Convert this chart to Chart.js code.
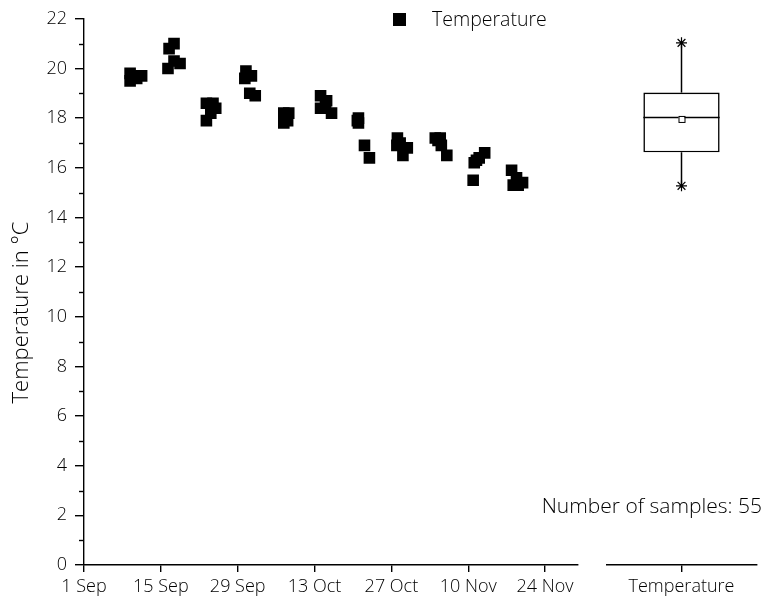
<!DOCTYPE html>
<html>
<head>
<meta charset="utf-8">
<script src="https://cdn.jsdelivr.net/npm/chart.js@4"></script>
<style>
  html, body { margin: 0; padding: 0; background: #fff; }
  body { width: 763px; height: 605px; position: relative; overflow: hidden; font-family: 'Open Sans', sans-serif; font-weight: 300; color: #000; }
  canvas { position: absolute; top: 0; }
  #legend { position: absolute; left: 393px; top: 6px; height: 26px; font-size: 19.5px; line-height: 26px; white-space: nowrap; }
  #legend .sw { position: absolute; left: 0; top: 7px; width: 13px; height: 13px; background: #000; }
  #legend .tx { position: absolute; left: 39px; top: 0; }
  #count { position: absolute; right: 1px; top: 492px; font-size: 21px; line-height: 26px; white-space: nowrap; }
</style>
</head>
<body>
<canvas id="main" width="600" height="605" style="left:0"></canvas>
<canvas id="box" width="163" height="605" style="left:600px"></canvas>
<div id="legend"><span class="sw"></span><span class="tx" id="legendText"></span></div>
<div id="count"></div>
<script>
// ---- data ----
const seriesName = 'Temperature';
const yAxisTitle = 'Temperature in °C';
const tickDays = [0, 14, 28, 42, 56, 70, 84];           // days after 1 Sep
const tickLabels = ['1 Sep', '15 Sep', '29 Sep', '13 Oct', '27 Oct', '10 Nov', '24 Nov'];
const sampleDays = [
  8.4, 8.4, 8.9, 9.6, 10.5,
  15.5, 16.4, 15.3, 16.4, 17.5,
  22.3, 23.5, 22.3, 23.1, 24.0,
  29.5, 30.5, 29.3, 30.2, 31.2,
  36.4, 37.3, 36.4, 37.1, 36.5,
  43.1, 44.2, 43.1, 44.0, 45.1,
  50.0, 50.0, 49.8, 51.1, 52.0,
  57.1, 57.0, 58.9, 58.1, 57.6,
  64.0, 64.9, 65.1, 66.1, 64.5,
  70.9, 71.1, 72.0, 73.0, 71.5,
  77.9, 78.8, 78.2, 79.9, 79.1
];
const sampleTemps = [
  19.8, 19.5, 19.7, 19.6, 19.7,
  20.8, 21.0, 20.0, 20.3, 20.2,
  18.6, 18.6, 17.9, 18.2, 18.4,
  19.9, 19.7, 19.6, 19.0, 18.9,
  18.2, 18.2, 17.8, 17.9, 18.0,
  18.9, 18.7, 18.4, 18.5, 18.2,
  18.0, 17.8, 17.9, 16.9, 16.4,
  17.2, 16.9, 16.8, 16.5, 17.0,
  17.2, 17.2, 16.9, 16.5, 17.1,
  15.5, 16.2, 16.4, 16.6, 16.3,
  15.9, 15.6, 15.3, 15.4, 15.3
];
const boxCategory = ['Temperature'];
const boxStats = [15.25, 16.6, 18.0, 19.0, 21.0];   // min, q1, median, q3, max
const boxMean = 17.94;
const sampleCount = 55;
const yMin = 0, yMax = 22;
const xMin = 0, xMax = 90;

// ---- text ----
document.getElementById('legendText').textContent = seriesName;
document.getElementById('count').textContent = 'Number of samples: ' + sampleCount;

const FONT = { family: "'Open Sans', sans-serif", size: 18, weight: 300 };
Chart.defaults.font.family = FONT.family;
Chart.defaults.font.size = FONT.size;
Chart.defaults.font.weight = FONT.weight;
Chart.defaults.color = '#000';

const AXIS_W = 1.4;

const axisDecor = {
  id: 'axisDecor',
  afterDraw(chart) {
    const y = chart.scales.y;
    const ctx = chart.ctx;
    ctx.save();
    ctx.strokeStyle = '#000';
    ctx.lineWidth = AXIS_W;
    for (let v = yMin + 1; v < yMax; v += 2) {
      const py = Math.round(y.getPixelForValue(v)) + 0.5;
      ctx.beginPath();
      ctx.moveTo(chart.chartArea.left - 5, py);
      ctx.lineTo(chart.chartArea.left, py);
      ctx.stroke();
    }
    // y axis title
    ctx.translate(28, 312.5);
    ctx.rotate(-Math.PI / 2);
    ctx.fillStyle = '#000';
    ctx.font = '300 22px ' + FONT.family;
    ctx.textAlign = 'center';
    ctx.textBaseline = 'alphabetic';
    ctx.fillText(yAxisTitle, 0, 0);
    ctx.restore();
  }
};

new Chart(document.getElementById('main'), {
  type: 'scatter',
  data: {
    datasets: [{
      label: seriesName,
      data: sampleDays.map((d, i) => ({ x: d, y: sampleTemps[i] })),
      pointStyle: 'rect',
      pointRadius: 8.2,
      pointHoverRadius: 8.2,
      backgroundColor: '#000',
      borderColor: '#000',
      borderWidth: 0
    }]
  },
  options: {
    responsive: false,
    animation: false,
    devicePixelRatio: 1,
    layout: { padding: { top: 18, right: 22, bottom: 0, left: 0 } },
    plugins: { legend: { display: false }, tooltip: { enabled: false } },
    scales: {
      x: {
        type: 'linear',
        min: xMin, max: xMax,
        afterBuildTicks: (s) => { s.ticks = tickDays.map(v => ({ value: v })); },
        afterFit: (s) => { s.height = 40; },
        ticks: {
          padding: 4,
          maxRotation: 0,
          autoSkip: false,
          callback: (v) => { const i = tickDays.indexOf(v); return i >= 0 ? tickLabels[i] : ''; }
        },
        grid: { drawOnChartArea: false, tickLength: 7, color: '#000', lineWidth: AXIS_W },
        border: { color: '#000', width: AXIS_W }
      },
      y: {
        min: yMin, max: yMax,
        afterFit: (s) => { s.width = 84; },
        ticks: { stepSize: 2, padding: 8 },
        grid: { drawOnChartArea: false, tickLength: 9, color: '#000', lineWidth: AXIS_W },
        border: { color: '#000', width: AXIS_W },
        title: { display: false, text: yAxisTitle }
      }
    }
  },
  plugins: [axisDecor]
});

const boxExtras = {
  id: 'boxExtras',
  afterDatasetsDraw(chart) {
    const y = chart.scales.y;
    const bar = chart.getDatasetMeta(0).data[0];
    const ctx = chart.ctx;
    ctx.save();
    ctx.strokeStyle = '#000';
    ctx.lineWidth = 1.5;
    const py = y.getPixelForValue(boxStats[2]);
    ctx.beginPath();
    ctx.moveTo(bar.x - bar.width / 2, py);
    ctx.lineTo(bar.x + bar.width / 2, py);
    ctx.stroke();
    // mean marker on top
    const mx = bar.x, my = y.getPixelForValue(boxMean);
    ctx.fillStyle = '#fff';
    ctx.lineWidth = 1;
    ctx.fillRect(mx - 3, my - 3, 6, 6);
    ctx.strokeRect(mx - 3 + 0.5, my - 3 + 0.5, 6, 6);
    ctx.restore();
  }
};

new Chart(document.getElementById('box'), {
  data: {
    labels: boxCategory,
    datasets: [
      {
        type: 'bar',
        data: [[boxStats[1], boxStats[3]]],
        backgroundColor: '#fff',
        borderColor: '#000',
        borderWidth: 1.6,
        borderSkipped: false,
        barPercentage: 0.51,
        categoryPercentage: 1,
        order: 3
      },
      {
        type: 'line',
        data: [{ x: boxCategory[0], y: boxStats[3] }, { x: boxCategory[0], y: boxStats[4] }],
        borderColor: '#000', borderWidth: 1.5,
        pointStyle: 'star', pointRadius: [0, 5.5], pointBorderColor: '#000', pointBorderWidth: 1.2,
        order: 2
      },
      {
        type: 'line',
        data: [{ x: boxCategory[0], y: boxStats[1] }, { x: boxCategory[0], y: boxStats[0] }],
        borderColor: '#000', borderWidth: 1.5,
        pointStyle: 'star', pointRadius: [0, 5.5], pointBorderColor: '#000', pointBorderWidth: 1.2,
        order: 2
      }
    ]
  },
  options: {
    responsive: false,
    animation: false,
    devicePixelRatio: 1,
    layout: { padding: { top: 18, right: 0, bottom: 0, left: 4 } },
    plugins: { legend: { display: false }, tooltip: { enabled: false } },
    scales: {
      x: {
        type: 'category',
        offset: true,
        afterFit: (s) => { s.height = 40; },
        ticks: { padding: 4, maxRotation: 0 },
        grid: { offset: false, drawOnChartArea: false, tickLength: 7, color: '#000', lineWidth: AXIS_W },
        border: { color: '#000', width: AXIS_W }
      },
      y: { display: false, min: yMin, max: yMax }
    }
  },
  plugins: [boxExtras]
});
</script>
</body>
</html>
